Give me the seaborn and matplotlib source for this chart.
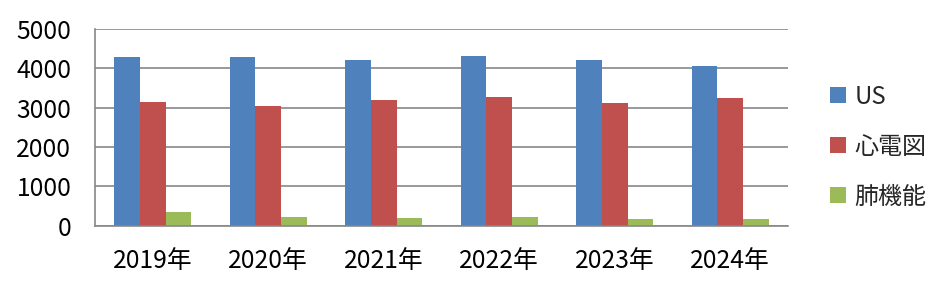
import matplotlib
matplotlib.use("Agg")
import matplotlib.pyplot as plt
import seaborn as sns
import pandas as pd

years = ["2019年", "2020年", "2021年", "2022年", "2023年", "2024年"]
series_names = ["US", "心電図", "肺機能"]
us_values = [4290, 4290, 4210, 4310, 4210, 4060]
ecg_values = [3145, 3045, 3195, 3270, 3110, 3240]
lung_values = [350, 220, 195, 220, 170, 170]
yticks = [0, 1000, 2000, 3000, 4000, 5000]
colors = ["#4F81BD", "#C0504D", "#9BBB59"]

rows = []
for name, vals in zip(series_names, [us_values, ecg_values, lung_values]):
    for y, v in zip(years, vals):
        rows.append({"year": y, "series": name, "value": v})
df = pd.DataFrame(rows)

sns.set_style("white")
plt.rcParams["font.family"] = ["Noto Sans CJK JP", "DejaVu Sans"]

fig = plt.figure(figsize=(9.49, 2.86), dpi=100)
ax = fig.add_axes([0.1001, 0.2108, 0.8303 - 0.1001, 0.8986 - 0.2108])

sns.barplot(data=df, x="year", y="value", hue="series", order=years,
            hue_order=series_names, palette=colors, width=0.67,
            saturation=1, linewidth=0, ax=ax, legend=True)

grid_c = "#878787"
ax.set_ylim(0, 5000)
ax.set_xlim(-0.5, len(years) - 0.5)
ax.set_yticks(yticks)
ax.set_yticklabels([str(t) for t in yticks])
ax.yaxis.grid(True, color=grid_c, linewidth=1.2)
ax.set_axisbelow(True)
ax.set_xlabel("")
ax.set_ylabel("")
for s in ["top", "right"]:
    ax.spines[s].set_visible(False)
for s in ["left", "bottom"]:
    ax.spines[s].set_color(grid_c)
    ax.spines[s].set_linewidth(1.2)

fs = 17.8
ax.set_xticks([i - 0.5 for i in range(len(years) + 1)], minor=True)
ax.set_xticks(range(len(years)))
ax.set_xticklabels(years)
ax.tick_params(axis="x", which="major", length=0, pad=16, labelsize=fs, labelcolor="black")
ax.tick_params(axis="x", which="minor", length=6, width=1.2, color=grid_c, direction="out")
ax.tick_params(axis="y", length=6, width=1.2, color=grid_c, pad=11, labelsize=fs, labelcolor="black")

handles, labels = ax.get_legend_handles_labels()
ax.legend(handles, labels, loc="center left", bbox_to_anchor=(0.852, 0.487),
          bbox_transform=fig.transFigure, frameon=False, fontsize=17.3,
          handlelength=0.65, handleheight=0.65, handletextpad=0.35, labelspacing=1.0)

fig.savefig("out.png", dpi=100)
